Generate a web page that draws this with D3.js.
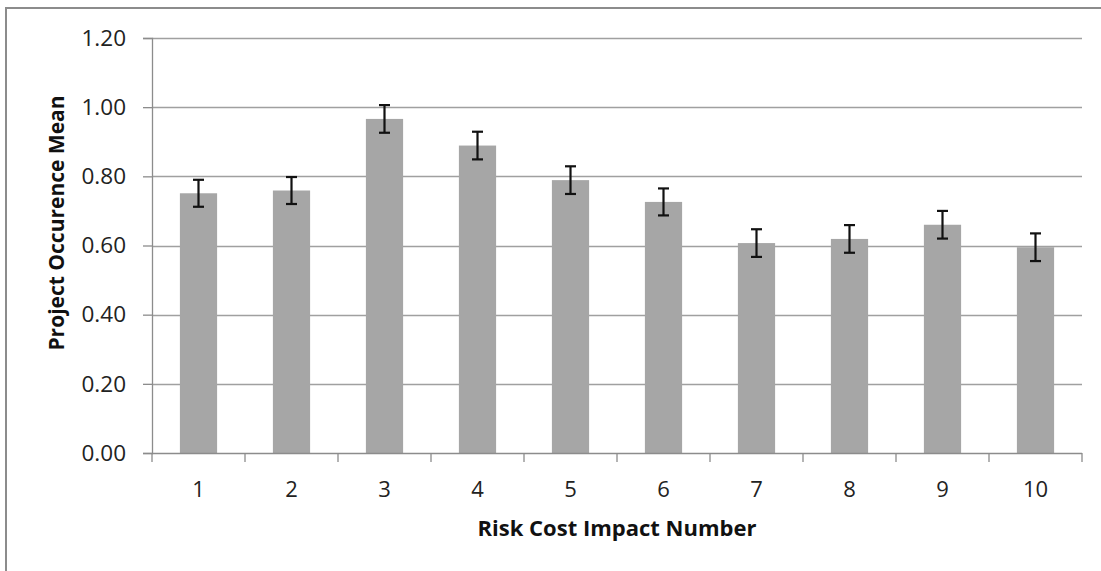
<!DOCTYPE html>
<html><head><meta charset="utf-8">
<script src="https://cdn.jsdelivr.net/npm/d3@7"></script>
<style>body{margin:0;background:#fff}svg{display:block}</style>
</head><body>
<svg id="c" width="1101" height="571"></svg>
<script>
const categories = ["1","2","3","4","5","6","7","8","9","10"];
const means = [0.751,0.759,0.966,0.889,0.789,0.726,0.607,0.619,0.660,0.595];
const errors = [0.039,0.039,0.040,0.040,0.040,0.039,0.040,0.040,0.040,0.040];
const yTicks = [0,0.2,0.4,0.6,0.8,1.0,1.2];
const xTitle = "Risk Cost Impact Number";
const yTitle = "Project Occurence Mean";

const svg = d3.select("#c");
const font = "'Open Sans', sans-serif";
const L = 152, R = 1082, T = 38, B = 453;

// outer border
svg.append("line").attr("x1",6).attr("x2",1101).attr("y1",8).attr("y2",8).attr("stroke","#8c8c8c").attr("stroke-width",2);
svg.append("line").attr("x1",6).attr("x2",6).attr("y1",7).attr("y2",571).attr("stroke","#8c8c8c").attr("stroke-width",2);

const x = d3.scaleBand().domain(categories).range([L,R]).paddingInner(0.6).paddingOuter(0.3);
const y = d3.scaleLinear().domain([0,1.2]).range([B,T]);

// gridlines
svg.append("g").selectAll("line").data(yTicks.filter(d=>d>0)).join("line")
  .attr("x1",L).attr("x2",R).attr("y1",d=>Math.round(y(d))+0.5).attr("y2",d=>Math.round(y(d))+0.5)
  .attr("stroke","#a0a0a0").attr("stroke-width",1.3);

// bars
svg.append("g").selectAll("rect").data(categories).join("rect")
  .attr("x",(d)=>x(d)).attr("width",x.bandwidth())
  .attr("y",(d,i)=>y(means[i])).attr("height",(d,i)=>B-y(means[i]))
  .attr("fill","#a6a6a6");

// error bars
const eg = svg.append("g").attr("stroke","#111").attr("stroke-width",2.2);
categories.forEach((c,i)=>{
  const cx = x(c)+x.bandwidth()/2;
  const yt = y(means[i]+errors[i]), yb = y(means[i]-errors[i]);
  eg.append("line").attr("x1",cx).attr("x2",cx).attr("y1",yt).attr("y2",yb);
  eg.append("line").attr("x1",cx-5.5).attr("x2",cx+5.5).attr("y1",yt).attr("y2",yt);
  eg.append("line").attr("x1",cx-5.5).attr("x2",cx+5.5).attr("y1",yb).attr("y2",yb);
});

// y axis
const ya = svg.append("g").attr("transform",`translate(${L},0)`)
  .call(d3.axisLeft(y).tickValues(yTicks).tickFormat(d3.format(".2f")).tickSize(9).tickPadding(17));
ya.select(".domain").attr("stroke","#8c8c8c").attr("stroke-width",1.3);
ya.selectAll(".tick line").attr("stroke","#8c8c8c").attr("stroke-width",1.3);
ya.selectAll("text").attr("font-family",font).attr("font-size",22.5).attr("fill","#222");

// x axis with boundary ticks
const xLin = d3.scaleLinear().domain([0,categories.length]).range([L,R]);
const xa = svg.append("g").attr("transform",`translate(0,${B})`);
xa.append("line").attr("x1",L).attr("x2",R).attr("y1",0.5).attr("y2",0.5).attr("stroke","#8c8c8c").attr("stroke-width",1.3);
xa.selectAll("line.t").data(d3.range(categories.length+1)).join("line").attr("class","t")
  .attr("x1",d=>xLin(d)).attr("x2",d=>xLin(d)).attr("y1",0).attr("y2",9)
  .attr("stroke","#8c8c8c").attr("stroke-width",1.3);
xa.selectAll("text").data(categories).join("text")
  .attr("x",d=>x(d)+x.bandwidth()/2).attr("y",44)
  .attr("text-anchor","middle").attr("font-family",font).attr("font-size",22).attr("fill","#222")
  .text(d=>d);

// titles
svg.append("text").attr("x",(L+R)/2).attr("y",536).attr("text-anchor","middle")
  .attr("font-family",font).attr("font-weight","bold").attr("font-size",22).attr("fill","#111").text(xTitle);
svg.append("text").attr("transform","translate(64,223) rotate(-90)").attr("text-anchor","middle")
  .attr("font-family",font).attr("font-weight","bold").attr("font-size",21).attr("fill","#111").text(yTitle);
</script>
</body></html>
